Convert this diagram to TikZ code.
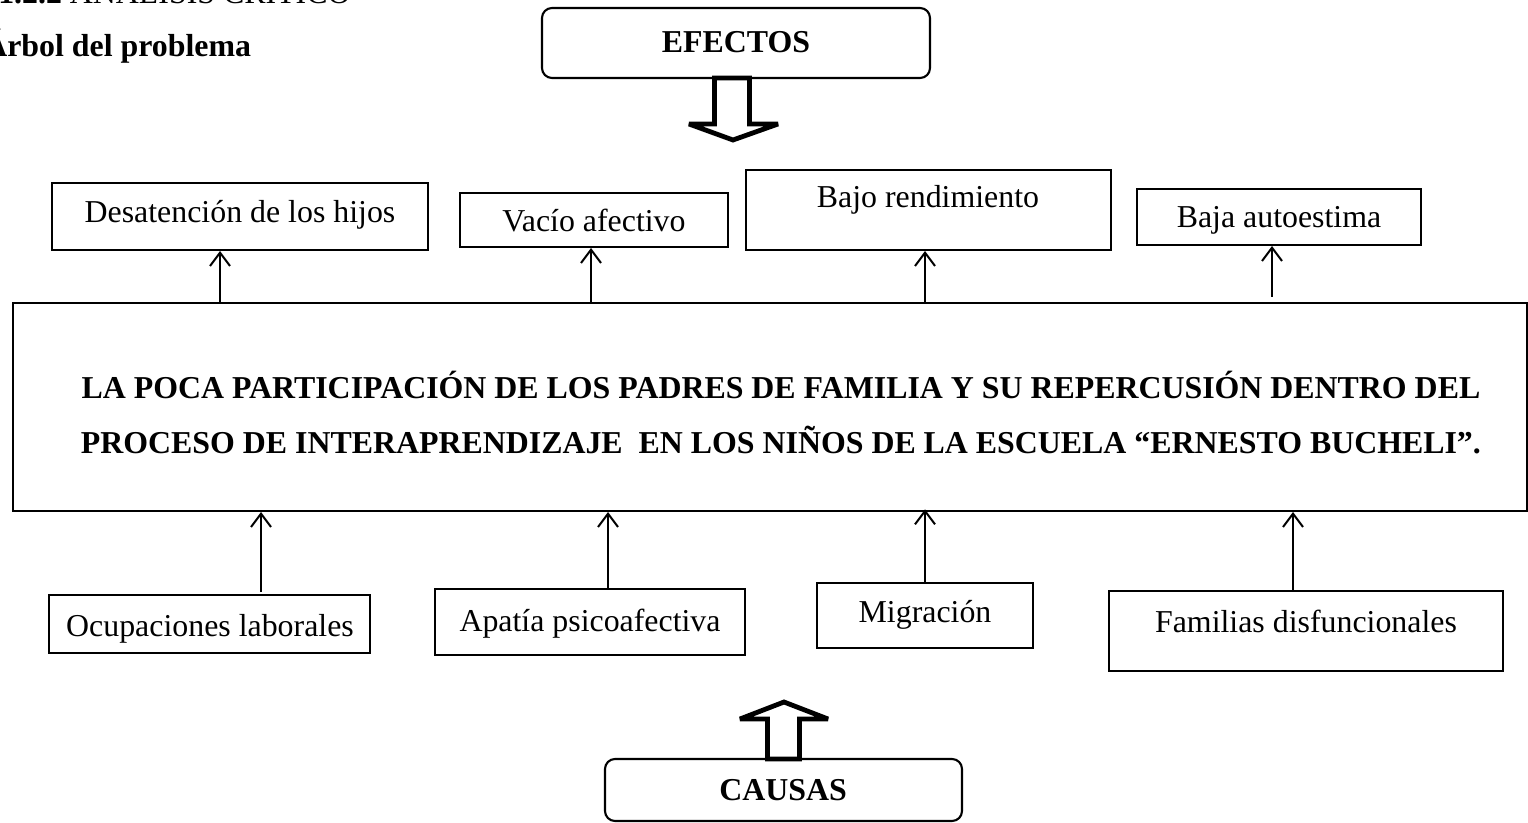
\documentclass[tikz,border=0pt]{standalone}
\usepackage{fontspec}
\setmainfont{Liberation Serif}
\usetikzlibrary{arrows.meta,fit}
\begin{document}
\begin{tikzpicture}[x=0.75pt,y=-0.75pt,
  box/.style={draw, line width=1.5pt, inner sep=0pt},
  rbox/.style={draw, line width=1.6pt, inner sep=0pt, rounded corners=7.5pt},
  lbl/.style={font=\fontsize{23.9}{28}\selectfont, inner sep=0pt, anchor=base},
  blbl/.style={font=\fontsize{23.9}{28}\selectfont\bfseries, inner sep=0pt, anchor=base},
  arr/.style={line width=1.5pt, -{Straight Barb[length=10pt,width=15pt,line width=1.5pt]}},
  blk/.style={draw, fill=white, line width=3.6pt, line join=miter, miter limit=3}]
\useasboundingbox (0,0) rectangle (1528,823);
\clip (0,0) rectangle (1528,823);

% headings
\node[lbl, anchor=base west] (h1) at (-2,4) {\textbf{1.2.2} ANÁLISIS CRÍTICO};
\node[blbl, anchor=base west] (h2) at (-16,57) {Árbol del problema};

% EFECTOS
\node[rbox, fit={(542,8) (930,78)}] (ef) {};
\node[blbl] (tef) at (736,53) {EFECTOS};
\draw[blk] (714.5,78) -- (714.5,124) -- (689,124) -- (733,140) -- (778,124) -- (749.5,124) -- (749.5,78) -- cycle;

% effect boxes
\node[box, fit={(52,183) (428,250)}] (d1) {};
\node[lbl] (td1) at (240,223) {Desatención de los hijos};
\node[box, fit={(460,193) (728,247)}] (d2) {};
\node[lbl] (td2) at (594,232) {Vacío afectivo};
\node[box, fit={(746,170) (1111,250)}] (d3) {};
\node[lbl] (td3) at (928,208) {Bajo rendimiento};
\node[box, fit={(1137,189) (1421,245)}] (d4) {};
\node[lbl] (td4) at (1279,228) {Baja autoestima};

% main problem
\node[box, fit={(13,303) (1527,511)}] (main) {};
\node[blbl] (m1) at (781,399) {LA POCA PARTICIPACIÓN DE LOS PADRES DE FAMILIA Y SU REPERCUSIÓN DENTRO DEL};
\node[blbl] (m2) at (781,454) {PROCESO DE INTERAPRENDIZAJE\ \ EN LOS NIÑOS DE LA ESCUELA “ERNESTO BUCHELI”.};

% cause boxes
\node[box, fit={(49,595) (370,653)}] (c1) {};
\node[lbl] (tc1) at (210,636) {Ocupaciones laborales};
\node[box, fit={(435,589) (745,655)}] (c2) {};
\node[lbl] (tc2) at (590,631) {Apatía psicoafectiva};
\node[box, fit={(817,583) (1033,648)}] (c3) {};
\node[lbl] (tc3) at (925,622) {Migración};
\node[box, fit={(1109,591) (1503,671)}] (c4) {};
\node[lbl] (tc4) at (1306,632) {Familias disfuncionales};

% CAUSAS
\node[rbox, fit={(605,759) (962,821)}] (ca) {};
\node[blbl] (tca) at (783,800) {CAUSAS};
\draw[blk] (767.5,759) -- (767.5,719) -- (740,719) -- (784,702) -- (828,719) -- (799.5,719) -- (799.5,759) -- cycle;

% connectors effects
\coordinate (x1) at (220,0);
\coordinate (x2) at (591,0);
\coordinate (x3) at (925,0);
\coordinate (x4) at (1272,297);
\draw[arr] (x1 |- main.north) -- (x1 |- d1.south);
\draw[arr] (x2 |- main.north) -- (x2 |- d2.south);
\draw[arr] (x3 |- main.north) -- (x3 |- d3.south);
\draw[arr] (x4) -- (x4 |- d4.south);

% connectors causes
\coordinate (y1) at (261,592);
\coordinate (y2) at (608,0);
\coordinate (y3) at (925,0);
\coordinate (y4) at (1293,0);
\draw[arr] (y1) -- (y1 |- main.south);
\draw[arr] (y2 |- c2.north) -- (y2 |- main.south);
\draw[arr] (y3 |- c3.north) -- ([yshift=2pt]y3 |- main.south);
\draw[arr] (y4 |- c4.north) -- (y4 |- main.south);
\end{tikzpicture}
\end{document}
